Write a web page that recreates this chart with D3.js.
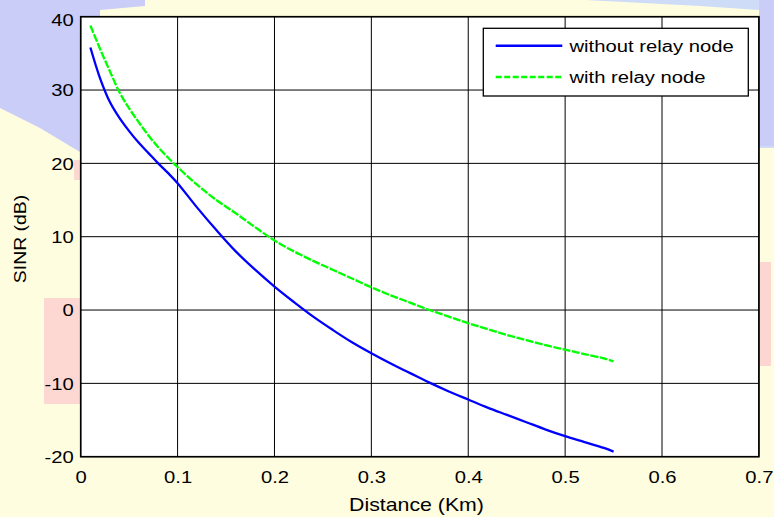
<!DOCTYPE html>
<html>
<head>
<meta charset="utf-8">
<script src="https://cdn.jsdelivr.net/npm/d3@7"></script>
<style>
  body { margin: 0; background: #fffde0; }
  svg { display: block; }
  text { font-family: "Liberation Sans", Arial, sans-serif; fill: #000; }
</style>
</head>
<body>
<div id="chart"></div>
<script>
(function() {
  var width = 774, height = 517;

  // distance (Km)
  var blueX  = [0.01, 0.02, 0.03, 0.04, 0.05, 0.06, 0.07, 0.08, 0.09, 0.10, 0.12, 0.14, 0.16, 0.18, 0.20, 0.22, 0.24, 0.26, 0.28, 0.30, 0.32, 0.34, 0.36, 0.38, 0.40, 0.42, 0.44, 0.46, 0.48, 0.50, 0.52, 0.54, 0.55];
  var blueY  = [35.8, 31.6, 28.4, 26.2, 24.4, 22.8, 21.4, 20.0, 18.7, 17.3, 14.0, 10.9, 8.0, 5.5, 3.2, 1.1, -0.9, -2.7, -4.4, -5.9, -7.3, -8.6, -9.9, -11.1, -12.2, -13.3, -14.3, -15.3, -16.3, -17.2, -18.0, -18.8, -19.3];
  var greenX = [0.01, 0.02, 0.03, 0.04, 0.05, 0.06, 0.07, 0.08, 0.09, 0.10, 0.12, 0.14, 0.16, 0.18, 0.20, 0.22, 0.24, 0.26, 0.28, 0.30, 0.32, 0.34, 0.36, 0.38, 0.40, 0.42, 0.44, 0.46, 0.48, 0.50, 0.52, 0.54, 0.55];
  var greenY = [38.8, 35.6, 32.6, 29.7, 27.5, 25.6, 23.8, 22.2, 20.8, 19.5, 17.1, 15.0, 13.2, 11.3, 9.5, 8.0, 6.7, 5.5, 4.3, 3.1, 2.0, 1.0, 0.0, -0.9, -1.8, -2.6, -3.4, -4.1, -4.8, -5.4, -6.0, -6.6, -7.0];
  var xTicks = [0, 0.1, 0.2, 0.3, 0.4, 0.5, 0.6, 0.7];
  var yTicks = [-20, -10, 0, 10, 20, 30, 40];
  var seriesNames = ['without relay node', 'with relay node'];

  var left = 80.7, right = 758.9, top = 16.7, bottom = 456.7;
  var stretch = 'scale(1.17,1)';
  var fs = 17.3;

  var svg = d3.select('#chart').append('svg').attr('width', width).attr('height', height);

  // decorative slide background
  var bg = svg.append('g');
  bg.append('rect').attr('width', width).attr('height', height).attr('fill', '#fffde0');
  bg.append('path').attr('d', 'M0,0 L145,0 L145,6 L100,10 L100,150 L80,152 L40,128 L0,108 Z').attr('fill', '#c9cdf8');
  bg.append('path').attr('d', 'M585,0 L774,0 L774,148 L759,148 L759,10 L700,6 Z').attr('fill', '#cfdcf8');
  bg.append('path').attr('d', 'M759,0 L774,0 L774,146 L759,146 Z').attr('fill', '#c9cdf8');
  bg.append('rect').attr('x', 759).attr('y', 262).attr('width', 12).attr('height', 104).attr('fill', '#fdd6d2');
  bg.append('rect').attr('x', 44).attr('y', 298).attr('width', 37).attr('height', 106).attr('fill', '#fdd8d2');
  bg.append('rect').attr('x', 74).attr('y', 160).attr('width', 7).attr('height', 20).attr('fill', '#fdd8d2');

  var x = d3.scaleLinear().domain([0, 0.7]).range([left, right]);
  var y = d3.scaleLinear().domain([-20, 40]).range([bottom, top]);

  svg.append('rect').attr('x', left).attr('y', top)
    .attr('width', right - left).attr('height', bottom - top).attr('fill', '#fff');

  // grid
  svg.append('g').selectAll('line.gx').data(xTicks).enter().append('line')
    .attr('x1', function(d) { return x(d); }).attr('x2', function(d) { return x(d); })
    .attr('y1', top).attr('y2', bottom).attr('stroke', '#000').attr('stroke-width', 1);
  svg.append('g').selectAll('line.gy').data(yTicks).enter().append('line')
    .attr('x1', left).attr('x2', right)
    .attr('y1', function(d) { return y(d); }).attr('y2', function(d) { return y(d); })
    .attr('stroke', '#000').attr('stroke-width', 1);

  // axes labels
  var xAxis = svg.append('g').attr('transform', 'translate(0,' + bottom + ')')
    .call(d3.axisBottom(x).tickValues(xTicks).tickSize(0).tickPadding(0)
      .tickFormat(function(d) { return d === 0 ? '0' : d3.format('.1f')(d); }));
  xAxis.select('.domain').remove();
  xAxis.selectAll('text').attr('y', 26.5).attr('dy', 0).attr('font-size', fs)
    .attr('fill', '#000').attr('transform', stretch);

  var yAxis = svg.append('g').attr('transform', 'translate(' + left + ',0)')
    .call(d3.axisLeft(y).tickValues(yTicks).tickSize(0).tickPadding(0)
      .tickFormat(function(d) { return String(d).replace('\u2212', '-'); }));
  yAxis.select('.domain').remove();
  yAxis.selectAll('text').attr('x', -6).attr('dy', '0.34em').attr('font-size', fs)
    .attr('fill', '#000').attr('transform', stretch);
  yAxis.selectAll('.tick').filter(function(d) { return d === 40; }).select('text').attr('dy', '0.5em');

  svg.append('text').attr('transform', 'translate(416.5,511) ' + stretch)
    .attr('text-anchor', 'middle').attr('font-size', 18.2).text('Distance (Km)');
  svg.append('text').attr('transform', 'translate(26,239) rotate(-90) scale(1.12,1)')
    .attr('text-anchor', 'middle').attr('font-size', fs).text('SINR (dB)');

  // lines
  var line = d3.line()
    .x(function(d) { return x(d[0]); })
    .y(function(d) { return y(d[1]); })
    .curve(d3.curveCatmullRom.alpha(0.5));

  var blue = d3.zip(blueX, blueY);
  var green = d3.zip(greenX, greenY);

  svg.append('path').datum(blue).attr('d', line).attr('fill', 'none')
    .attr('stroke', '#0000ff').attr('stroke-width', 2.3);
  svg.append('path').datum(green).attr('d', line).attr('fill', 'none')
    .attr('stroke', '#00ff00').attr('stroke-width', 2.3).attr('stroke-dasharray', '8,1.5');

  // frame
  svg.append('rect').attr('x', left).attr('y', top)
    .attr('width', right - left).attr('height', bottom - top)
    .attr('fill', 'none').attr('stroke', '#000').attr('stroke-width', 1.6);

  // legend
  var lg = svg.append('g');
  lg.append('rect').attr('x', 483.3).attr('y', 28.3).attr('width', 265).attr('height', 67.7)
    .attr('fill', '#fff').attr('stroke', '#000').attr('stroke-width', 1.3);
  var legendColors = ['#0000ff', '#00ff00'];
  var legendDash = [null, '6,2.5'];
  lg.selectAll('line.lgl').data(seriesNames).enter().append('line')
    .attr('x1', 495.7).attr('x2', 562.3)
    .attr('y1', function(d, i) { return 45.7 + i * 31.3; })
    .attr('y2', function(d, i) { return 45.7 + i * 31.3; })
    .attr('stroke', function(d, i) { return legendColors[i]; })
    .attr('stroke-width', 2.6)
    .attr('stroke-dasharray', function(d, i) { return legendDash[i]; });
  lg.selectAll('text.lgt').data(seriesNames).enter().append('text')
    .attr('transform', function(d, i) { return 'translate(569.5,' + (51.8 + i * 31.3) + ') ' + stretch; })
    .attr('font-size', fs).text(function(d) { return d; });
})();
</script>
</body>
</html>
